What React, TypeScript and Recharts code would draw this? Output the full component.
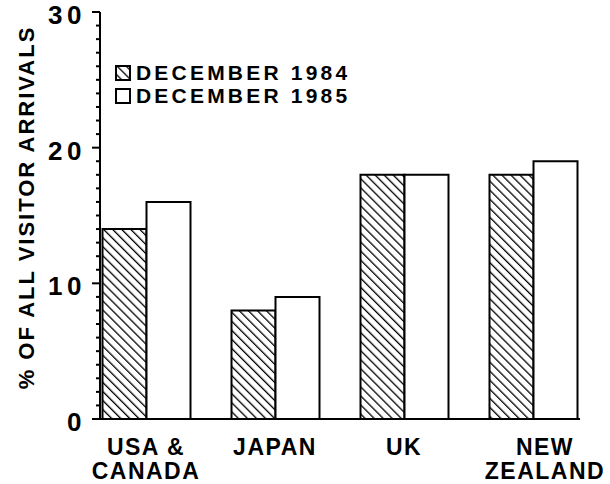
import React from 'react';
import { BarChart, Bar, XAxis, YAxis, Legend } from 'recharts';

// Share of visitor arrivals by origin, Dec 1984 vs Dec 1985.
const countries = ['USA &\nCANADA', 'JAPAN', 'UK', 'NEW\nZEALAND'];
const dec1984 = [14, 8, 18, 18];
const dec1985 = [16, 9, 18, 19];
const seriesNames = ['DECEMBER 1984', 'DECEMBER 1985'];
const majorTicks = [0, 10, 20, 30];
const allTicks = [
  0, 1, 2, 3, 4, 5, 6, 7, 8, 9, 10, 11, 12, 13, 14, 15,
  16, 17, 18, 19, 20, 21, 22, 23, 24, 25, 26, 27, 28, 29, 30,
];

const data = countries.map((c, i) => ({ name: c, d1984: dec1984[i], d1985: dec1985[i] }));

const FONT = '"Liberation Sans", Arial, sans-serif';
const INK = '#000';

const HatchDef = ({ id }: { id: string }) => (
  <pattern id={id} patternUnits="userSpaceOnUse" width={6.4} height={6.4} patternTransform="rotate(-45)">
    <rect width={6.4} height={6.4} fill="#fff" />
    <line x1={0} y1={0} x2={0} y2={6.4} stroke={INK} strokeWidth={2.6} />
  </pattern>
);

const YTick = (props: any) => {
  const { x, y, payload } = props;
  const major = majorTicks.includes(payload.value);
  return (
    <g>
      <line x1={x - (major ? 8 : 4)} y1={y} x2={x} y2={y} stroke={INK} strokeWidth={2} />
      {major && (
        <text
          x={x - 14}
          y={y}
          dy="0.46em"
          textAnchor="end"
          fontFamily={FONT}
          fontWeight="bold"
          fontSize={26}
          letterSpacing={4.5}
          fill={INK}
        >
          {payload.value}
        </text>
      )}
    </g>
  );
};

// the last label sits a bit right of its bars in the original
const XTick = (props: any) => {
  const { x, y, payload, index } = props;
  const lines = String(payload.value).split('\n');
  const cx = x + (index === countries.length - 1 ? 12 : 0);
  return (
    <text x={cx} y={y} textAnchor="middle" fontFamily={FONT} fontWeight="bold" fontSize={23} letterSpacing={1.5} fill={INK}>
      {lines.map((l, i) => (
        <tspan key={i} x={cx} dy={i === 0 ? 34 : 24}>{l}</tspan>
      ))}
    </text>
  );
};

const YLabel = (props: any) => {
  const { viewBox } = props;
  const cx = viewBox.x + 34;
  const cy = viewBox.y + viewBox.height / 2 - 8;
  return (
    <text
      x={cx}
      y={cy}
      transform={`rotate(-90, ${cx}, ${cy})`}
      textAnchor="middle"
      fontFamily={FONT}
      fontWeight="bold"
      fontSize={22}
      letterSpacing={2}
      fill={INK}
    >
      % OF ALL VISITOR ARRIVALS
    </text>
  );
};

const LegendBox = () => (
  <div style={{ fontFamily: FONT, fontWeight: 'bold', fontSize: 21, letterSpacing: 3.2, color: INK, lineHeight: '23px' }}>
    {seriesNames.map((n, i) => (
      <div key={n} style={{ display: 'flex', alignItems: 'center' }}>
        <svg width={16} height={16} style={{ marginRight: 5 }}>
          <defs><HatchDef id="hatch-legend" /></defs>
          <rect x={1} y={1} width={14} height={14} fill={i === 0 ? 'url(#hatch-legend)' : '#fff'} stroke={INK} strokeWidth={2} />
        </svg>
        <span>{n}</span>
      </div>
    ))}
  </div>
);

export default function App() {
  return (
    <div style={{ position: 'fixed', left: 0, top: 0, width: 610, height: 484, background: '#fff' }}>
      <BarChart
        width={610}
        height={484}
        data={data}
        margin={{ top: 12, right: 30, bottom: 0, left: 0 }}
        barGap={0}
        barSize={44}
      >
        <defs>
          <HatchDef id="hatch" />
        </defs>
        <XAxis
          dataKey="name"
          interval={0}
          height={65}
          tickLine={false}
          tickSize={0}
          axisLine={{ stroke: INK, strokeWidth: 2 }}
          padding={{ left: -18.5, right: -17.5 }}
          tick={<XTick />}
        />
        <YAxis
          domain={[0, 30]}
          ticks={allTicks}
          interval={0}
          width={100}
          tickLine={false}
          tickSize={0}
          tickMargin={0}
          axisLine={{ stroke: INK, strokeWidth: 2 }}
          tick={<YTick />}
          label={<YLabel />}
        />
        <Legend
          layout="vertical"
          align="center"
          verticalAlign="middle"
          content={<LegendBox />}
          wrapperStyle={{ left: 115, top: 61, width: 'auto' }}
        />
        <Bar dataKey="d1984" name={seriesNames[0]} fill="url(#hatch)" stroke={INK} strokeWidth={2} isAnimationActive={false} />
        <Bar dataKey="d1985" name={seriesNames[1]} fill="#fff" stroke={INK} strokeWidth={2} isAnimationActive={false} />
      </BarChart>
    </div>
  );
}
